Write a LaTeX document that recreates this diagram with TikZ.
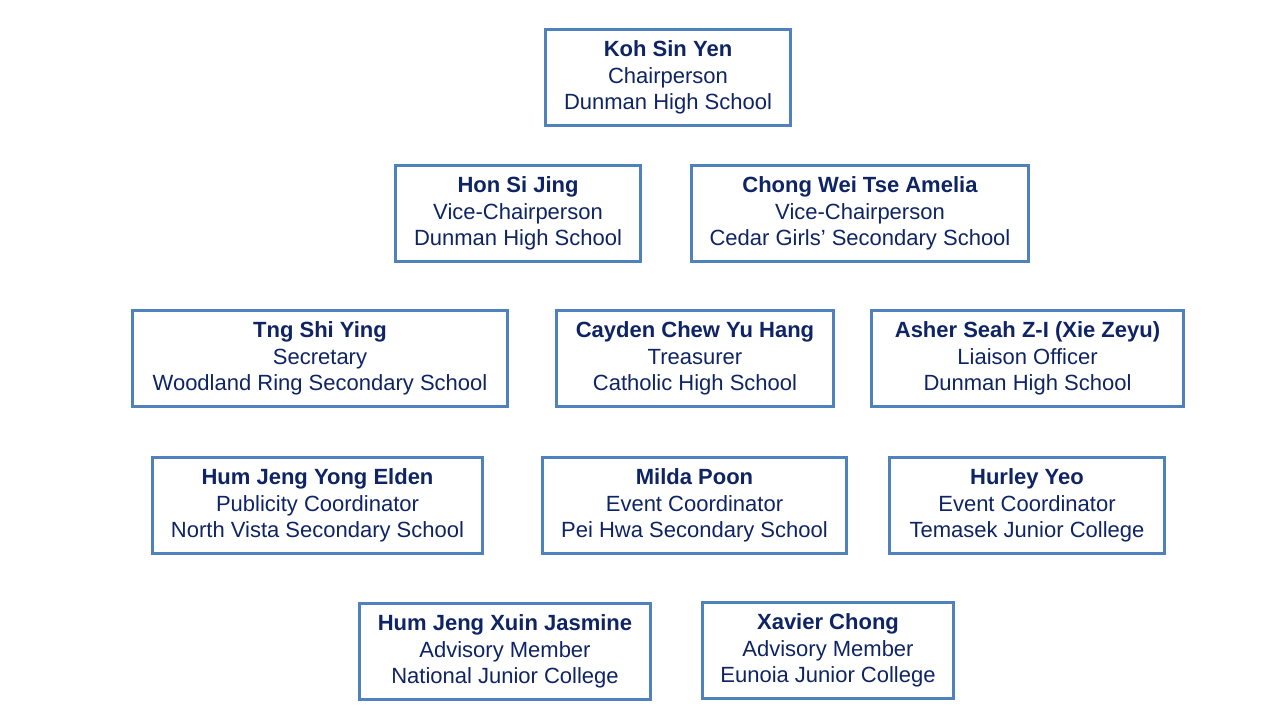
\documentclass[tikz,border=0pt]{standalone}
\usepackage{fontspec}
\setmainfont{Liberation Sans}
\usetikzlibrary{positioning}
\definecolor{boxcol}{RGB}{79,129,189}
\definecolor{namecol}{RGB}{14,36,100}

\begin{document}
\begin{tikzpicture}[
		x=0.75pt,
		y=-0.75pt,
		member/.style={
			draw=boxcol,
			line width=2.2pt,
			rectangle,
			align=center,
			inner sep=0pt,
			minimum height=72pt,
			text=namecol,
			font=\fontsize{16.5}{19.9}\selectfont,
			fill=white
		}
		]
		\useasboundingbox (0,0) rectangle (1280,720);
		
		% Chair
		\node[member, minimum width=184pt] (koh) at (668,77.5) {\textbf{Koh Sin Yen}\\Chairperson\\Dunman High School};
		
		% Vice-chairs
		\node[member, minimum width=184pt] (hon) at (518,213.5) {\textbf{Hon Si Jing}\\Vice-Chairperson\\Dunman High School};
		\node[member, minimum width=253pt] (chong) at (860,213.5) {\textbf{Chong Wei Tse Amelia}\\Vice-Chairperson\\Cedar Girls’ Secondary School};
		
		% Officers
		\node[member, minimum width=281pt] (tng) at (320,358.5) {\textbf{Tng Shi Ying}\\Secretary\\Woodland Ring Secondary School};
		\node[member, minimum width=208pt] (cayden) at (695,358.5) {\textbf{Cayden Chew Yu Hang}\\Treasurer\\Catholic High School};
		\node[member, minimum width=234pt] (asher) at (1027.5,358.5) {\textbf{Asher Seah Z-I (Xie Zeyu)}\\Liaison Officer\\Dunman High School};
		
		% Coordinators
		\node[member, minimum width=247pt] (elden) at (317.5,505.5) {\textbf{Hum Jeng Yong Elden}\\Publicity Coordinator\\North Vista Secondary School};
		\node[member, minimum width=228pt] (milda) at (694.5,505.5) {\textbf{Milda Poon}\\Event Coordinator\\Pei Hwa Secondary School};
		\node[member, minimum width=206pt] (hurley) at (1027,505.5) {\textbf{Hurley Yeo}\\Event Coordinator\\Temasek Junior College};
		
		% Advisory
		\node[member, minimum width=218pt] (jasmine) at (505,651.5) {\textbf{Hum Jeng Xuin Jasmine}\\Advisory Member\\National Junior College};
		\node[member, minimum width=188pt] (xavier) at (828,650.5) {\textbf{Xavier Chong}\\Advisory Member\\Eunoia Junior College};
	\end{tikzpicture}
\end{document}
